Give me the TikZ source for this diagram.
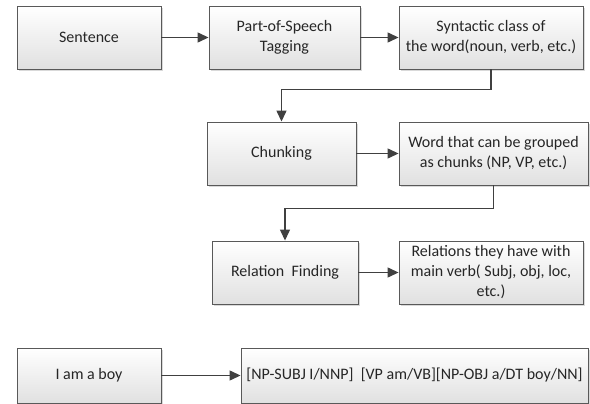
\documentclass[tikz,border=0pt]{standalone}
\usepackage{fontspec}
\setmainfont{Carlito}
\usetikzlibrary{arrows.meta,shadows,positioning}
\tikzset{
  box/.style={draw=black!65, line width=0.9pt, top color=white, bottom color=black!12,
    drop shadow={shadow xshift=2pt, shadow yshift=-2pt, fill=black!25, opacity=0.6},
    align=center, inner sep=2pt, font=\fontsize{16}{20}\selectfont, text=black!85},
  conn/.style={draw=black!75, line width=1.3pt, -{Triangle[length=11pt,width=10pt]}}
}
\begin{document}
\begin{tikzpicture}[x=1pt,y=-1pt]
\useasboundingbox (0,0) rectangle (590,404);
\node[box, minimum width=144pt, minimum height=63pt] (sent) at (89,37.5) {Sentence};
\node[box, minimum width=151pt, minimum height=63pt] (pos) at (284.5,37.5) {Part-of-Speech\\Tagging};
\node[box, minimum width=184pt, minimum height=63pt] (syn) at (491,37.5) {Syntactic class of\\the word(noun, verb, etc.)};
\node[box, minimum width=149pt, minimum height=63pt] (chunk) at (281.5,153.5) {Chunking};
\node[box, minimum width=189pt, minimum height=63pt] (word) at (493.5,153.5) {Word that can be grouped\\as chunks (NP, VP, etc.)};
\node[box, minimum width=146pt, minimum height=63pt] (rel) at (285,272.5) {Relation~~Finding};
\node[box, minimum width=184pt, minimum height=63pt] (rels) at (491,272.5) {Relations they have with\\main verb( Subj, obj, loc,\\etc.)};
\node[box, minimum width=144pt, minimum height=55pt] (boy) at (89,375.5) {I am a boy};
\node[box, minimum width=347pt, minimum height=55pt] (tags) at (414.5,375.5) {[NP-SUBJ I/NNP]~~[VP am/VB][NP-OBJ a/DT boy/NN]};
\draw[conn] (sent) -- (pos);
\draw[conn] (pos) -- (syn);
\draw[conn] (syn.south) -- ++(0,20) -| (chunk.north);
\draw[conn] (chunk) -- (word);
\draw[conn] (word.south) -- ++(0,23) -| (rel.north);
\draw[conn] (rel) -- (rels);
\draw[conn] (boy) -- (tags);
\end{tikzpicture}
\end{document}
